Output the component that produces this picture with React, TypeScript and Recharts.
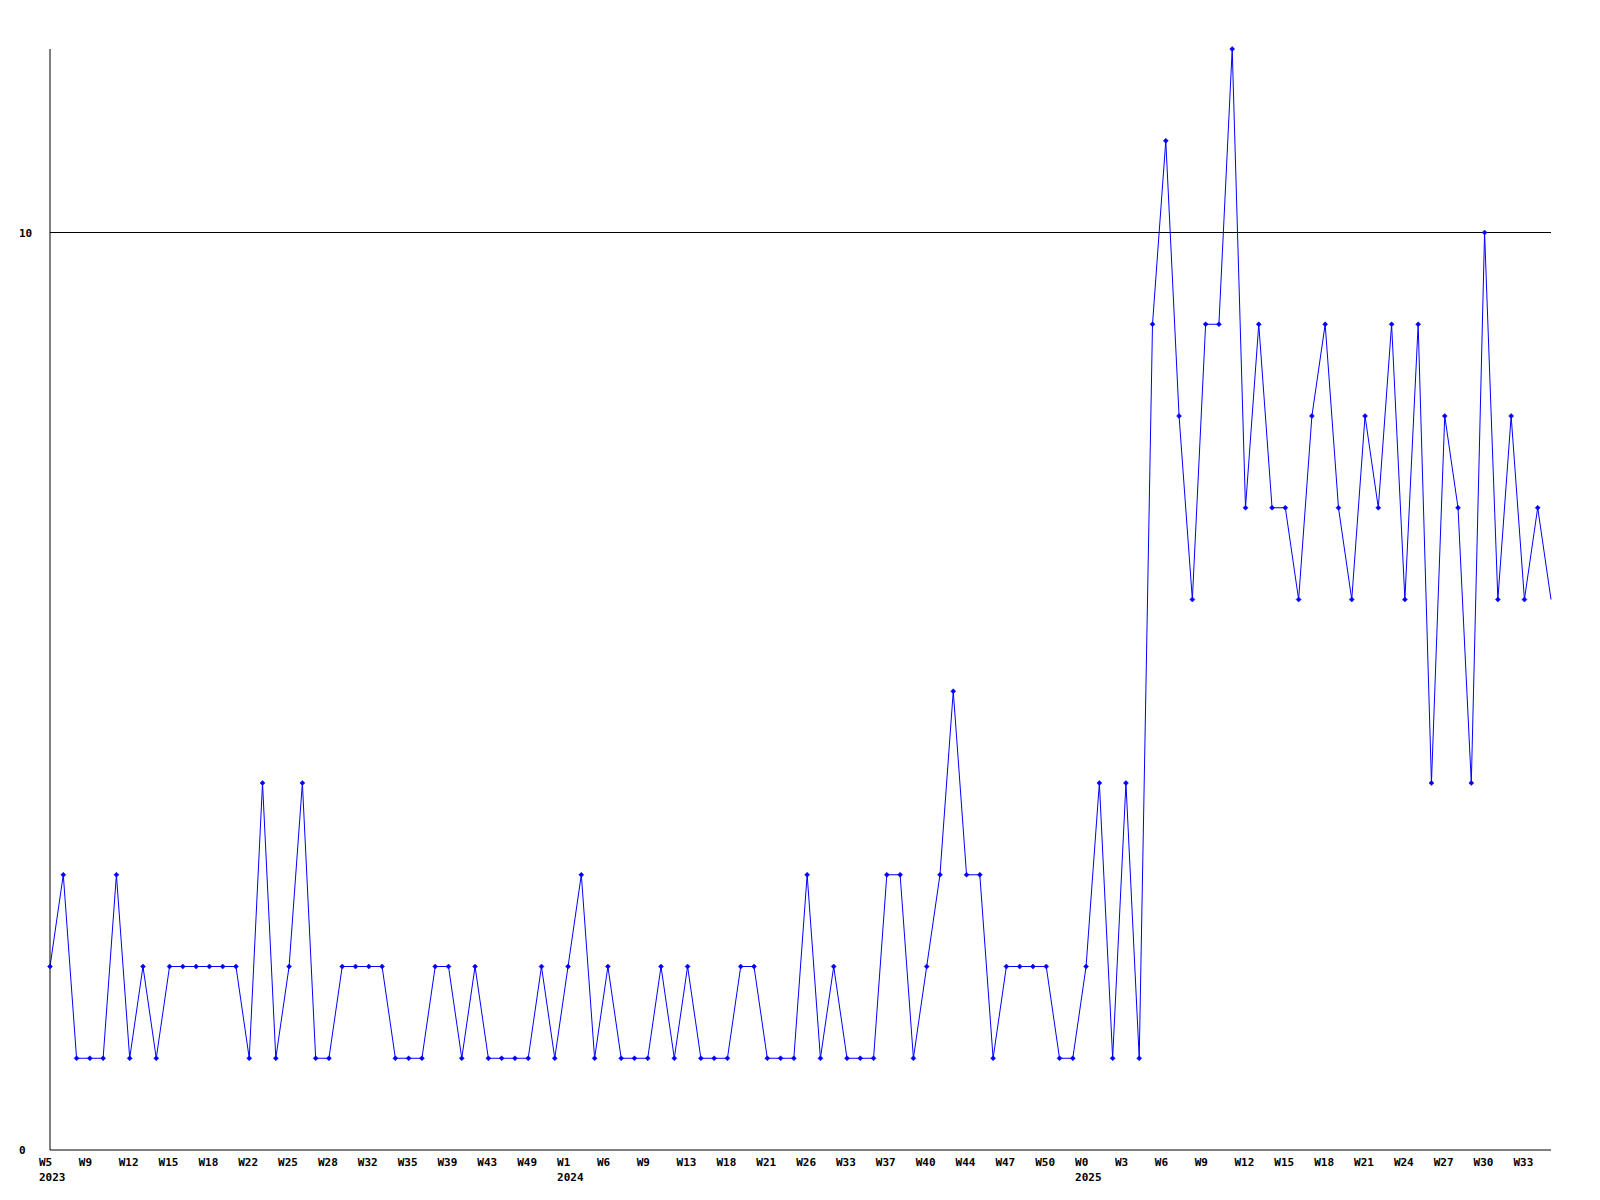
import React from "react";
import { LineChart, Line, XAxis, YAxis, ReferenceLine } from "recharts";

const values: number[] = [
  2, 3, 1, 1, 1, 3, 1, 2, 1, 2,
  2, 2, 2, 2, 2, 1, 4, 1, 2, 4,
  1, 1, 2, 2, 2, 2, 1, 1, 1, 2,
  2, 1, 2, 1, 1, 1, 1, 2, 1, 2,
  3, 1, 2, 1, 1, 1, 2, 1, 2, 1,
  1, 1, 2, 2, 1, 1, 1, 3, 1, 2,
  1, 1, 1, 3, 3, 1, 2, 3, 5, 3,
  3, 1, 2, 2, 2, 2, 1, 1, 2, 4,
  1, 4, 1, 9, 11, 8, 6, 9, 9, 12,
  7, 9, 7, 7, 6, 8, 9, 7, 6, 8,
  7, 9, 6, 9, 4, 8, 7, 4, 10, 6,
  8, 6, 7, 6,
];

const weekLabels: string[] = [
  "W5", "W9", "W12", "W15", "W18", "W22", "W25", "W28", "W32", "W35", "W39", "W43", "W49",
  "W1", "W6", "W9", "W13", "W18", "W21", "W26", "W33", "W37", "W40", "W44", "W47", "W50",
  "W0", "W3", "W6", "W9", "W12", "W15", "W18", "W21", "W24", "W27", "W30", "W33",
];
const labelStep = 3;
const yearLabels: string[] = ["2023", "2024", "2025"];
const yearTickIndex: number[] = [0, 39, 78];
const yTicks: number[] = [0, 10];
const gridValue = 10;

const data = values.map((v, i) => ({ i, v }));
const xTicks = weekLabels.map((_, k) => k * labelStep);

const FONT = "'DejaVu Sans Mono', 'Liberation Mono', monospace";

const XTick = (props: any) => {
  const { x, y, payload } = props;
  const idx = payload.value as number;
  const k = Math.round(idx / labelStep);
  const yi = yearTickIndex.indexOf(idx);
  return (
    <g>
      <text x={x - 11} y={y + 16} textAnchor="start" fontFamily={FONT} fontWeight="bold" fontSize={11} fill="#000">
        {weekLabels[k]}
      </text>
      {yi >= 0 && (
        <text x={x - 11} y={y + 31} textAnchor="start" fontFamily={FONT} fontWeight="bold" fontSize={11} fill="#000">
          {yearLabels[yi]}
        </text>
      )}
    </g>
  );
};

const YTick = (props: any) => {
  const { x, y, payload } = props;
  return (
    <text x={x - 31} y={y + 4} textAnchor="start" fontFamily={FONT} fontWeight="bold" fontSize={11} fill="#000">
      {payload.value}
    </text>
  );
};

const Dot = (props: any) => {
  const { cx, cy, index } = props;
  if (cx == null || cy == null || index === values.length - 1) return <g key={index} />;
  const r = 2.5;
  return (
    <path
      key={index}
      d={`M${cx - r},${cy} L${cx},${cy - r} L${cx + r},${cy} L${cx},${cy + r} Z`}
      fill="#0000ff"
      stroke="#0000ff"
      strokeWidth={0.5}
    />
  );
};

export default function App() {
  return (
    <div style={{ position: "absolute", left: 0, top: 0, width: 1600, height: 1200, background: "#fff" }}>
      <LineChart width={1600} height={1200} data={data} margin={{ top: 49, right: 49, left: 10, bottom: 10 }}>
        <XAxis
          dataKey="i"
          type="number"
          domain={[0, values.length - 1]}
          ticks={xTicks}
          interval={0}
          height={40}
          tickSize={0}
          tickMargin={0}
          tickLine={false}
          axisLine={{ stroke: "#000", strokeWidth: 1 }}
          tick={<XTick />}
        />
        <YAxis
          type="number"
          domain={[0, 12]}
          ticks={yTicks}
          interval={0}
          width={40}
          tickSize={0}
          tickMargin={0}
          tickLine={false}
          axisLine={{ stroke: "#000", strokeWidth: 1 }}
          tick={<YTick />}
        />
        <ReferenceLine y={gridValue} stroke="#000" strokeWidth={1} ifOverflow="extendDomain" />
        <Line
          type="linear"
          dataKey="v"
          stroke="#0000ff"
          strokeWidth={1}
          dot={<Dot />}
          activeDot={false}
          isAnimationActive={false}
        />
      </LineChart>
    </div>
  );
}
